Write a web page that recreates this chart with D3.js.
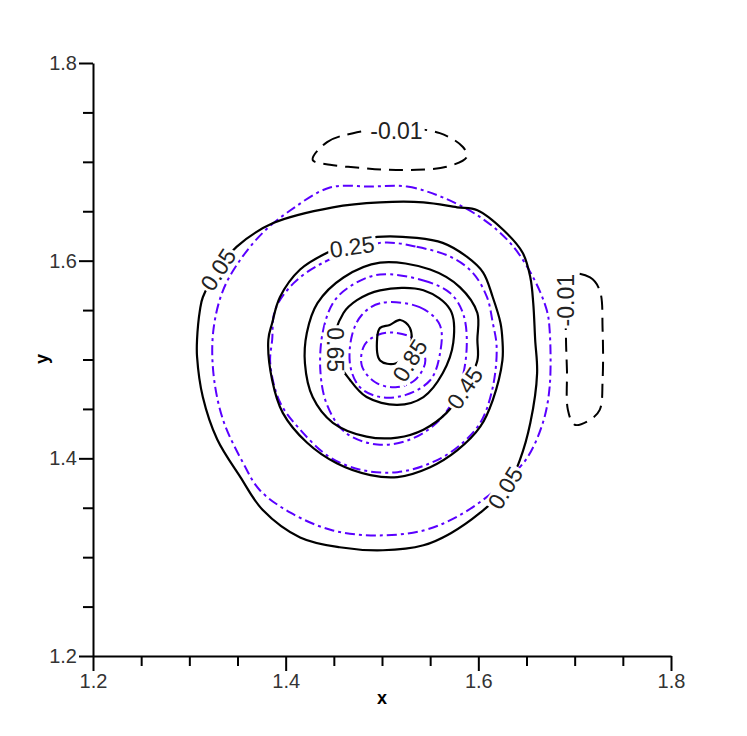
<!DOCTYPE html>
<html><head><meta charset="utf-8">
<script src="https://cdn.jsdelivr.net/npm/d3@7"></script>
<style>body{margin:0;background:#fff} text{font-family:"Liberation Sans",Arial,Helvetica,sans-serif}</style>
</head><body><svg id="c" width="747" height="736"></svg>
<script>
// axis ticks
const xMajor = [1.2, 1.4, 1.6, 1.8];
const yMajor = [1.2, 1.4, 1.6, 1.8];
const minorTicks = [1.25, 1.3, 1.35, 1.45, 1.5, 1.55, 1.65, 1.7, 1.75];
const tickLabels = ["1.2", "1.4", "1.6", "1.8"];

// black solid contours (closed loop points)
const c005 = [[1.349,1.614],[1.387,1.638],[1.449,1.654],[1.498,1.659],[1.543,1.659],[1.578,1.654],[1.599,1.651],[1.626,1.631],[1.646,1.608],[1.654,1.583],[1.657,1.557],[1.659,1.520],[1.661,1.486],[1.654,1.436],[1.643,1.398],[1.630,1.371],[1.602,1.345],[1.571,1.324],[1.543,1.312],[1.501,1.307],[1.456,1.310],[1.415,1.320],[1.376,1.348],[1.353,1.381],[1.329,1.419],[1.314,1.462],[1.308,1.503],[1.308,1.520],[1.311,1.550],[1.314,1.563],[1.330,1.591]];
const c025 = [[1.495,1.624],[1.536,1.623],[1.563,1.618],[1.588,1.604],[1.605,1.588],[1.615,1.563],[1.623,1.537],[1.625,1.520],[1.625,1.499],[1.615,1.459],[1.602,1.432],[1.578,1.408],[1.550,1.391],[1.516,1.381],[1.488,1.383],[1.453,1.395],[1.422,1.416],[1.397,1.446],[1.386,1.479],[1.382,1.520],[1.386,1.537],[1.394,1.563],[1.415,1.591],[1.443,1.608],[1.470,1.618]];
const c045 = [[1.567,1.446],[1.543,1.429],[1.516,1.421],[1.484,1.422],[1.449,1.436],[1.428,1.462],[1.420,1.496],[1.422,1.527],[1.433,1.557],[1.460,1.583],[1.498,1.598],[1.550,1.591],[1.581,1.573],[1.599,1.547],[1.599,1.520],[1.599,1.499],[1.584,1.469]];
const c065 = [[1.467,1.479],[1.484,1.462],[1.516,1.454],[1.543,1.462],[1.563,1.486],[1.574,1.517],[1.571,1.550],[1.543,1.570],[1.498,1.570],[1.474,1.560],[1.460,1.547],[1.449,1.510]];
const c085 = [[1.514,1.496],[1.498,1.499],[1.495,1.522],[1.498,1.532],[1.508,1.535],[1.519,1.540],[1.529,1.532],[1.529,1.510]];
// black dashed negative contours
const cNegTop = [[1.428,1.702],[1.443,1.720],[1.470,1.729],[1.519,1.734],[1.560,1.729],[1.584,1.715],[1.588,1.705],[1.567,1.695],[1.536,1.692],[1.505,1.692],[1.477,1.694],[1.446,1.697]];
const cNegRight = [[1.695,1.586],[1.716,1.583],[1.726,1.570],[1.729,1.530],[1.729,1.479],[1.726,1.449],[1.716,1.439],[1.700,1.434],[1.693,1.449],[1.692,1.489],[1.691,1.520],[1.691,1.560]];
// blue dash-dot contours
const b1 = [[1.488,1.675],[1.526,1.675],[1.563,1.664],[1.602,1.644],[1.633,1.618],[1.657,1.583],[1.671,1.550],[1.674,1.530],[1.674,1.472],[1.667,1.436],[1.651,1.401],[1.633,1.381],[1.609,1.361],[1.578,1.341],[1.543,1.327],[1.495,1.322],[1.449,1.327],[1.405,1.345],[1.373,1.368],[1.356,1.395],[1.335,1.439],[1.325,1.486],[1.325,1.530],[1.335,1.570],[1.353,1.601],[1.376,1.628],[1.405,1.651],[1.446,1.674]];
const b2 = [[1.498,1.618],[1.536,1.614],[1.571,1.604],[1.594,1.588],[1.609,1.563],[1.615,1.537],[1.619,1.513],[1.615,1.472],[1.602,1.436],[1.578,1.411],[1.550,1.395],[1.516,1.386],[1.480,1.388],[1.446,1.401],[1.415,1.429],[1.394,1.457],[1.384,1.496],[1.386,1.520],[1.389,1.550],[1.408,1.577],[1.439,1.598]];
const b3 = [[1.498,1.586],[1.543,1.580],[1.571,1.567],[1.584,1.547],[1.588,1.515],[1.581,1.474],[1.560,1.439],[1.529,1.419],[1.495,1.414],[1.462,1.426],[1.443,1.454],[1.436,1.489],[1.439,1.530],[1.451,1.560],[1.472,1.577]];
const b4 = [[1.498,1.557],[1.539,1.553],[1.560,1.535],[1.560,1.505],[1.550,1.479],[1.524,1.464],[1.498,1.462],[1.477,1.472],[1.467,1.494],[1.469,1.525],[1.479,1.545]];
const b5 = [[1.514,1.527],[1.534,1.520],[1.545,1.499],[1.534,1.479],[1.514,1.472],[1.493,1.477],[1.479,1.494],[1.482,1.515],[1.496,1.525]];

// contour labels: text, x, y, angle
const labelText = ["0.05", "0.05", "0.25", "0.45", "0.65", "0.85", "-0.01", "-0.01"];
const labelX = [1.330, 1.628, 1.469, 1.586, 1.451, 1.529, 1.515, 1.691];
const labelY = [1.591, 1.370, 1.614, 1.471, 1.510, 1.499, 1.731, 1.560];
const labelAngle = [-57, -58, -8, -56, 90, -58, 0, -90];

const svg = d3.select("#c");
const x = d3.scaleLinear().domain([1.2, 1.8]).range([93, 671]);
const y = d3.scaleLinear().domain([1.2, 1.8]).range([656, 63]);

const line = d3.line().x(d => x(d[0])).y(d => y(d[1])).curve(d3.curveCatmullRomClosed.alpha(0.5));

const blue = "#5a00ff";
const gB = svg.append("g");
[b1, b2, b3, b4, b5].forEach(c => {
  gB.append("path").attr("d", line(c)).attr("fill", "none").attr("stroke", blue)
    .attr("stroke-width", 2).attr("stroke-dasharray", "10,4,3,4");
});
const gK = svg.append("g");
[c005, c025, c045, c065, c085].forEach(c => {
  gK.append("path").attr("d", line(c)).attr("fill", "none").attr("stroke", "#000").attr("stroke-width", 2.2);
});
[cNegTop, cNegRight].forEach(c => {
  gK.append("path").attr("d", line(c)).attr("fill", "none").attr("stroke", "#000")
    .attr("stroke-width", 2).attr("stroke-dasharray", "14,8");
});

const gL = svg.append("g");
labelText.forEach((t, i) => {
  const g = gL.append("g").attr("transform", `translate(${x(labelX[i])},${y(labelY[i])}) rotate(${labelAngle[i]})`);
  const r = g.append("rect").attr("fill", "#fff");
  const tx = g.append("text").attr("text-anchor", "middle").attr("dy", "0.35em")
    .attr("font-size", 23).attr("fill", "#222").text(t);
  const bb = tx.node().getBBox();
  r.attr("x", bb.x - 2).attr("y", bb.y + 3).attr("width", bb.width + 4).attr("height", bb.height - 6);
});

// axes
const ax = svg.append("g").attr("transform", "translate(0,656)");
ax.call(d3.axisBottom(x).tickValues(minorTicks).tickSize(10).tickSizeOuter(0).tickFormat(""));
ax.call(g => g.select(".domain").remove());
const ax2 = svg.append("g").attr("transform", "translate(0,656)");
ax2.call(d3.axisBottom(x).tickValues(xMajor).tickSize(15).tickSizeOuter(0).tickFormat((d, i) => tickLabels[i]));
ax2.selectAll("text").attr("font-size", 20).attr("fill", "#333").attr("font-family", "Liberation Sans, Arial, sans-serif");

const ay = svg.append("g").attr("transform", "translate(93,0)");
ay.call(d3.axisLeft(y).tickValues(minorTicks).tickSize(10).tickSizeOuter(0).tickFormat(""));
ay.call(g => g.select(".domain").remove());
const ay2 = svg.append("g").attr("transform", "translate(93,0)");
ay2.call(d3.axisLeft(y).tickValues(yMajor).tickSize(14).tickSizeOuter(0).tickFormat((d, i) => tickLabels[i]));
ay2.selectAll("text").attr("font-size", 20).attr("fill", "#333").attr("x", -16).attr("font-family", "Liberation Sans, Arial, sans-serif");

svg.selectAll(".tick line").attr("stroke", "#000").attr("stroke-width", 2);
svg.selectAll(".domain").attr("stroke", "#000").attr("stroke-width", 2);

svg.append("text").attr("x", 382).attr("y", 704).attr("text-anchor", "middle")
  .attr("font-size", 18).attr("font-weight", "bold").text("x");
svg.append("text").attr("transform", "translate(48,359) rotate(-90)").attr("text-anchor", "middle")
  .attr("font-size", 18).attr("font-weight", "bold").text("y");
</script></body></html>
